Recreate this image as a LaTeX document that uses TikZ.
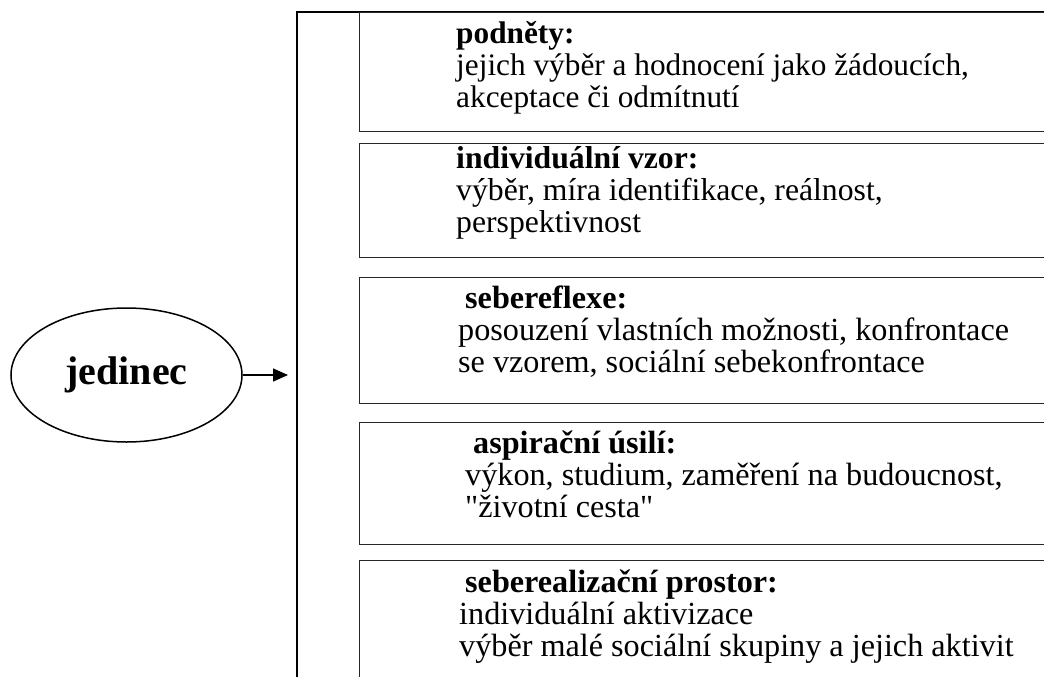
\documentclass[tikz,border=0pt]{standalone}
\usepackage{fontspec}
\setmainfont{Liberation Serif}[Ligatures=TeXOff]
\usetikzlibrary{arrows.meta,shapes.geometric}
\newcommand\boxlines[3]{\vtop{\baselineskip=32pt\lineskiplimit=-1000pt\lineskip=0pt\hbox{#1}\hbox{#2}\hbox{#3}}}
\begin{document}
\begin{tikzpicture}[x=1pt,y=-1pt,
  frameline/.style={draw=black,line width=2pt},
  itembox/.style={draw=black!85,line width=1.2pt,rectangle,anchor=north west,minimum width=750pt,inner sep=0pt},
  itemtext/.style={anchor=base west,inner sep=0pt,font=\fontsize{#1}{32}\selectfont},
  itemtext/.default=31.3,
  person/.style={draw=black,ellipse,line width=1.5pt,minimum width=231pt,minimum height=134pt,inner sep=0pt,font=\fontsize{40}{44}\selectfont\bfseries},
  flow/.style={line width=1.5pt,-{Triangle[length=15pt,width=13pt]}}]
\useasboundingbox (0,0) rectangle (1044,677);
\fill[white] (0,0) rectangle (1044,677);
% frame
\coordinate (ftr) at (1200,12);
\coordinate (ftl) at (296.5,12);
\coordinate (fbl) at (296.5,800);
\draw[frameline] (ftr) -- (ftl) -- (fbl);
% boxes
\node[itembox,minimum height=119pt] (b1) at (359,12) {};
\node[itembox,minimum height=114pt] (b2) at (359,143) {};
\node[itembox,minimum height=126pt] (b3) at (359,277) {};
\node[itembox,minimum height=122pt] (b4) at (359,422) {};
\node[itembox,minimum height=200pt] (b5) at (359,560) {};
% texts
\node[itemtext=31.3] (t1) at (456,44) {\boxlines{\textbf{podněty:}}{jejich výběr a hodnocení jako žádoucích,}{akceptace či odmítnutí}};
\node[itemtext=31.7] (t2) at (456,168) {\boxlines{\textbf{individuální vzor:}}{výběr, míra identifikace, reálnost,}{perspektivnost}};
\node[itemtext=32.2] (t3) at (458,308) {\boxlines{\hspace{7pt}\textbf{sebereflexe:}}{posouzení vlastních možnosti, konfrontace}{se vzorem, sociální sebekonfrontace}};
\node[itemtext=32.2] (t4) at (465,453) {\boxlines{\hspace{8pt}\textbf{aspirační úsilí:}}{výkon, studium, zaměření na budoucnost,}{"životní cesta"}};
\node[itemtext=32.2] (t5) at (459,592) {\boxlines{\hspace{6pt}\textbf{seberealizační prostor:}}{individuální aktivizace}{výběr malé sociální skupiny a jejich aktivit}};
% person
\node[person] (e) at (126.5,375) {jedinec};
\coordinate (tip) at (288,375);
\draw[flow] (e.east) -- (tip);
\end{tikzpicture}
\end{document}
